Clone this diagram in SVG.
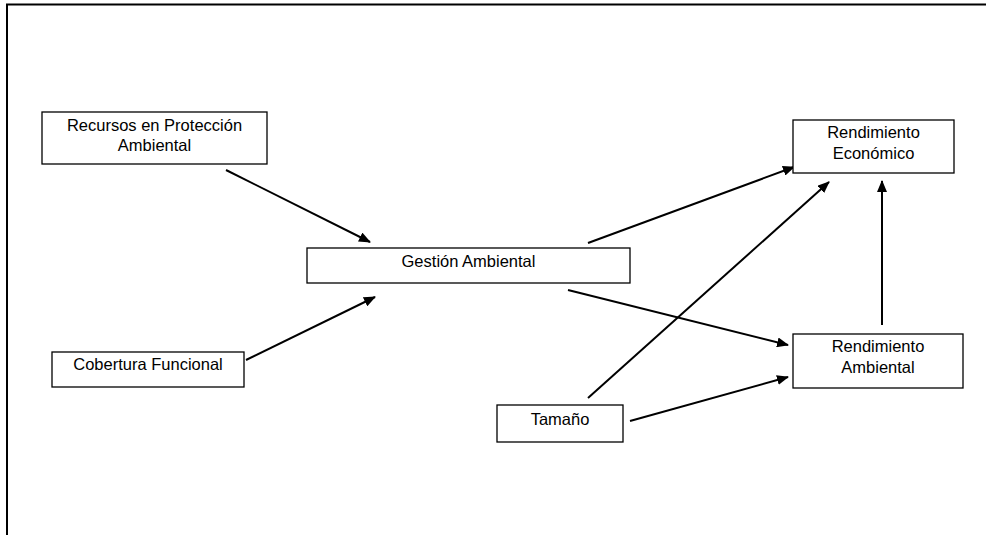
<svg xmlns="http://www.w3.org/2000/svg" width="986" height="535" viewBox="0 0 986 535">
  <defs>
    <marker id="arrow" viewBox="0 0 12 10" refX="11" refY="5" markerWidth="12" markerHeight="10" markerUnits="userSpaceOnUse" orient="auto">
      <path d="M0,0 L12,5 L0,10 Z" fill="#000"/>
    </marker>
  </defs>
  <style>
    .box { fill: #fff; stroke: #000; stroke-width: 1.3; }
    .lbl { font-family: "Liberation Sans", Arial, sans-serif; font-size: 16.5px; fill: #000; text-anchor: middle; }
    .edge { stroke: #000; stroke-width: 2; fill: none; marker-end: url(#arrow); }
    .frame { stroke: #000; stroke-width: 2; fill: none; }
  </style>
  <rect width="986" height="535" fill="#fff"/>

  <!-- page frame -->
  <path class="frame" d="M7,535 L7,4.5 L986,4.5"/>

  <!-- connectors -->
  <g id="connectors">
    <line class="edge" x1="226" y1="170" x2="370" y2="242"/>
    <line class="edge" x1="246" y1="360" x2="375" y2="297"/>
    <line class="edge" x1="588" y1="243" x2="794" y2="167"/>
    <line class="edge" x1="568" y1="290" x2="788" y2="345"/>
    <line class="edge" x1="588" y1="398" x2="829" y2="182"/>
    <line class="edge" x1="630" y1="421" x2="788" y2="377"/>
    <line class="edge" x1="882" y1="325" x2="882" y2="181"/>
  </g>

  <g id="recursos">
    <rect class="box" x="42" y="112" width="225" height="52"/>
    <text class="lbl" x="154.5" y="131">Recursos en Protección</text>
    <text class="lbl" x="154.5" y="151">Ambiental</text>
  </g>

  <g id="gestion">
    <rect class="box" x="307" y="248" width="323" height="35"/>
    <text class="lbl" x="468.5" y="267">Gestión Ambiental</text>
  </g>

  <g id="cobertura">
    <rect class="box" x="52" y="352" width="192" height="35"/>
    <text class="lbl" x="148" y="370">Cobertura Funcional</text>
  </g>

  <g id="economico">
    <rect class="box" x="793" y="120" width="161" height="53"/>
    <text class="lbl" x="873.5" y="138">Rendimiento</text>
    <text class="lbl" x="873.5" y="159">Económico</text>
  </g>

  <g id="ambiental">
    <rect class="box" x="793" y="334" width="170" height="54"/>
    <text class="lbl" x="878" y="352">Rendimiento</text>
    <text class="lbl" x="878" y="373">Ambiental</text>
  </g>

  <g id="tamano">
    <rect class="box" x="497" y="405" width="126" height="37"/>
    <text class="lbl" x="560" y="425">Tamaño</text>
  </g>
</svg>
